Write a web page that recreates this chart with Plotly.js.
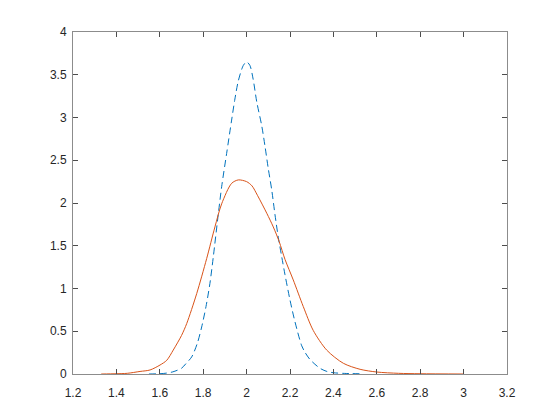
<!DOCTYPE html>
<html>
<head>
<meta charset="utf-8">
<script src="https://cdn.plot.ly/plotly-3.0.1.min.js"></script>
<style>
  html, body { margin: 0; padding: 0; background: #fff; }
  #chart { width: 560px; height: 420px; }
</style>
</head>
<body>
<div id="chart"></div>
<script>
// dashed blue curve (narrow density)
const blueX = [1.55, 1.60, 1.63, 1.66, 1.70, 1.72, 1.747, 1.773, 1.793, 1.813, 1.831, 1.847, 1.870, 1.885, 1.908, 1.931, 1.945, 1.962, 1.985, 2.0, 2.015, 2.03, 2.047, 2.07, 2.085, 2.10, 2.116, 2.131, 2.146, 2.162, 2.177, 2.20, 2.223, 2.254, 2.27, 2.292, 2.338, 2.37, 2.40, 2.45, 2.52];
const blueY = [0, 0.003, 0.01, 0.025, 0.067, 0.12, 0.20, 0.36, 0.55, 0.79, 1.06, 1.38, 1.88, 2.19, 2.58, 2.97, 3.2, 3.43, 3.61, 3.65, 3.61, 3.45, 3.18, 2.90, 2.66, 2.40, 2.15, 1.86, 1.60, 1.37, 1.16, 0.865, 0.61, 0.33, 0.25, 0.17, 0.067, 0.03, 0.015, 0.007, 0.003];

// solid orange curve (wider density)
const orangeX = [1.33, 1.40, 1.45, 1.509, 1.555, 1.601, 1.632, 1.662, 1.70, 1.724, 1.770, 1.816, 1.854, 1.885, 1.931, 1.962, 2.0, 2.025, 2.05, 2.093, 2.123, 2.15, 2.177, 2.215, 2.261, 2.307, 2.369, 2.446, 2.523, 2.60, 2.70, 2.80, 3.0];
const orangeY = [0, 0.003, 0.008, 0.03, 0.047, 0.105, 0.16, 0.28, 0.45, 0.59, 0.94, 1.35, 1.72, 1.99, 2.23, 2.27, 2.25, 2.20, 2.09, 1.88, 1.72, 1.55, 1.34, 1.10, 0.79, 0.51, 0.28, 0.125, 0.055, 0.023, 0.008, 0.003, 0];

const xTicks = [1.2, 1.4, 1.6, 1.8, 2, 2.2, 2.4, 2.6, 2.8, 3, 3.2];
const yTicks = [0, 0.5, 1, 1.5, 2, 2.5, 3, 3.5, 4];

const axisStyle = {
    showline: true, linecolor: '#8c8c8c', linewidth: 1, mirror: 'allticks',
    ticks: 'inside', ticklen: 5, tickcolor: '#4d4d4d', tickwidth: 1,
    showgrid: false, zeroline: false,
    tickfont: { family: 'Liberation Sans, Arial, sans-serif', size: 12, color: '#262626' }
};

Plotly.newPlot('chart', [
    {
        x: blueX, y: blueY, type: 'scatter', mode: 'lines',
        line: { color: '#0072BD', width: 1, dash: '7px,4px', shape: 'spline', smoothing: 0.8 },
        hoverinfo: 'skip'
    },
    {
        x: orangeX, y: orangeY, type: 'scatter', mode: 'lines',
        line: { color: '#D95319', width: 1, shape: 'spline', smoothing: 0.8 },
        hoverinfo: 'skip'
    }
], {
    width: 560, height: 420,
    margin: { l: 73, r: 53, t: 32, b: 46 },
    paper_bgcolor: '#fff', plot_bgcolor: '#fff',
    showlegend: false,
    xaxis: { ...axisStyle, range: [1.2, 3.2], tickvals: xTicks, ticktext: xTicks.map(String), ticklabelstandoff: 8 },
    yaxis: { ...axisStyle, range: [0, 4], tickvals: yTicks, ticktext: yTicks.map(String), ticklabelstandoff: 3 }
}, { staticPlot: true });
</script>
</body>
</html>
